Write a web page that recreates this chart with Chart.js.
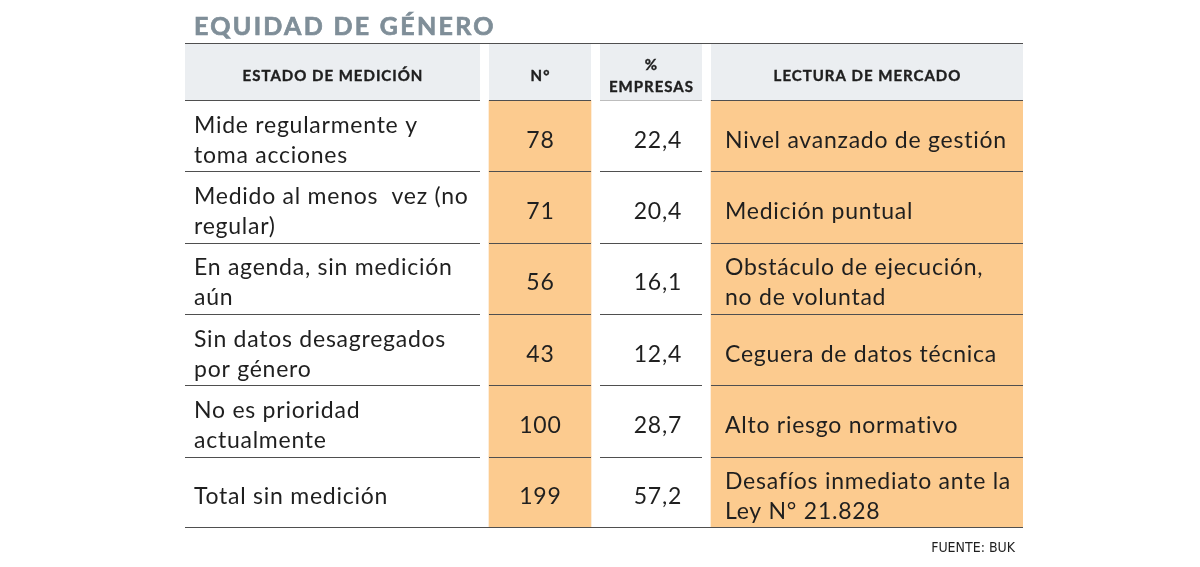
<!DOCTYPE html>
<html lang="es">
<head>
<meta charset="utf-8">
<title>Equidad de género</title>
<script src="https://cdn.jsdelivr.net/npm/chart.js@4.4.1/dist/chart.umd.min.js"></script>
<style>
  html, body { margin: 0; padding: 0; background: #fff; }
  canvas { display: block; }
</style>
</head>
<body>
<canvas id="tabla" width="1200" height="567"></canvas>
<script>
// ---- datos ----
const titulo = "EQUIDAD DE GÉNERO";
const encabezados = [["ESTADO DE MEDICIÓN"], ["N°"], ["%", "EMPRESAS"], ["LECTURA DE MERCADO"]];
const estados = [
  ["Mide regularmente y", "toma acciones"],
  ["Medido al menos  vez (no", "regular)"],
  ["En agenda, sin medición", "aún"],
  ["Sin datos desagregados", "por género"],
  ["No es prioridad", "actualmente"],
  ["Total sin medición"],
];
const empresas = [78, 71, 56, 43, 100, 199];
const porcentaje = [22.4, 20.4, 16.1, 12.4, 28.7, 57.2];
const lectura = [
  ["Nivel avanzado de gestión"],
  ["Medición puntual"],
  ["Obstáculo de ejecución,", "no de voluntad"],
  ["Ceguera de datos técnica"],
  ["Alto riesgo normativo"],
  ["Desafíos inmediato ante la", "Ley N° 21.828"],
];
const fuente = "FUENTE: BUK";

// ---- layout (unidades del eje x = ancho de tabla) ----
const COLS = [[0, 295], [304, 406], [415, 517], [526, 838]];
const ORANGE = "#fccb8f";
const HEAD_BG = "#ebeef1";
const LINE = "#4f4f4f";
const INK = "#1f1f1f";
const BODY_FONT = "23px Lato, 'Noto Sans', sans-serif";
const HEAD_FONT = "bold 15px Lato, 'Noto Sans', sans-serif";

function fmt(v) {
  return v.toFixed(1).replace(".", ",");
}

// dibuja varias lineas centradas verticalmente en cy
function drawLines(ctx, lines, x, cy, step, off, bold) {
  const first = cy + off - ((lines.length - 1) * step) / 2;
  lines.forEach((t, i) => {
    ctx.fillText(t, x, first + i * step);
    if (bold) ctx.strokeText(t, x, first + i * step);
  });
}

function hLine(ctx, x0, x1, y, color, w) {
  ctx.beginPath();
  ctx.strokeStyle = color;
  ctx.lineWidth = w;
  ctx.moveTo(x0, y);
  ctx.lineTo(x1, y);
  ctx.stroke();
}

const tablePlugin = {
  id: "tabla",
  afterDatasetsDraw(chart) {
    const ctx = chart.ctx;
    const xs = chart.scales.x;
    const ys = chart.scales.y;
    const area = chart.chartArea;
    const band = ys.height / estados.length;
    const headTop = 44;
    const px = COLS.map(([a, b]) => [xs.getPixelForValue(a), xs.getPixelForValue(b)]);

    ctx.save();

    // titulo
    ctx.fillStyle = "#7f8e98";
    ctx.strokeStyle = "#7f8e98";
    ctx.lineWidth = 0.7;
    ctx.font = "bold 25px Lato, 'Noto Sans', sans-serif";
    ctx.letterSpacing = "2.3px";
    ctx.textAlign = "left";
    ctx.textBaseline = "alphabetic";
    ctx.fillText(titulo, px[0][0] + 9, 34.5);
    ctx.strokeText(titulo, px[0][0] + 9, 34.5);

    // encabezado
    ctx.letterSpacing = "1px";
    px.forEach(([a, b], c) => {
      ctx.fillStyle = HEAD_BG;
      ctx.fillRect(a, headTop, b - a, area.top - headTop);
      ctx.fillStyle = INK;
      ctx.strokeStyle = INK;
      ctx.lineWidth = 0.4;
      ctx.font = HEAD_FONT;
      ctx.textAlign = "center";
      drawLines(ctx, encabezados[c], (a + b) / 2 + 0.5, (headTop + area.top) / 2, 22, 9, true);
    });
    hLine(ctx, px[0][0], px[3][1], 43.5, LINE, 1.2);

    // lineas entre filas (por columna)
    for (let i = 0; i < estados.length; i++) {
      const top = ys.getPixelForValue(i) - band / 2;
      px.forEach(([a, b], c) => {
        const col = i === 0 && c === 2 ? "#bdbdbd" : LINE;
        hLine(ctx, a, b, Math.round(top) + 0.5, col, 1.2);
      });
    }
    hLine(ctx, px[0][0], px[3][1], Math.round(area.bottom) - 0.5, LINE, 1.2);

    // texto de celdas
    ctx.fillStyle = INK;
    ctx.font = BODY_FONT;
    ctx.letterSpacing = "0.75px";
    estados.forEach((lines, i) => {
      const cy = ys.getPixelForValue(i);
      ctx.textAlign = "left";
      drawLines(ctx, lines, px[0][0] + 9, cy, 30, 12);
      ctx.textAlign = "center";
      drawLines(ctx, [String(empresas[i])], (px[1][0] + px[1][1]) / 2 + 0.4, cy, 30, 12);
      ctx.textAlign = "right";
      drawLines(ctx, [fmt(porcentaje[i])], px[2][1] - 20, cy, 30, 12);
      ctx.textAlign = "left";
      drawLines(ctx, lectura[i], px[3][0] + 14, cy, 30, 12);
    });

    // fuente
    ctx.letterSpacing = "0px";
    ctx.font = "14px 'Liberation Sans Narrow', 'DejaVu Sans Condensed', sans-serif";
    ctx.textAlign = "right";
    ctx.fillText(fuente, px[3][1] - 8, 551.5);

    ctx.restore();
  },
};

const rowLabels = estados.map((l) => l.join(" "));

new Chart(document.getElementById("tabla"), {
  type: "bar",
  data: {
    labels: rowLabels,
    datasets: [
      {
        label: "N°",
        data: empresas.map(() => COLS[1]),
        backgroundColor: ORANGE,
        borderWidth: 0,
        barPercentage: 1,
        categoryPercentage: 1,
        grouped: false,
      },
      {
        label: "Lectura de mercado",
        data: lectura.map(() => COLS[3]),
        backgroundColor: ORANGE,
        borderWidth: 0,
        barPercentage: 1,
        categoryPercentage: 1,
        grouped: false,
      },
    ],
  },
  options: {
    indexAxis: "y",
    responsive: false,
    animation: false,
    layout: { padding: { left: 185, right: 1200 - 1023, top: 100, bottom: 567 - 528 } },
    scales: {
      x: { type: "linear", min: 0, max: 838, display: false },
      y: { type: "category", display: false },
    },
    plugins: {
      legend: { display: false },
      tooltip: { enabled: false },
    },
  },
  plugins: [tablePlugin],
});
</script>
</body>
</html>
